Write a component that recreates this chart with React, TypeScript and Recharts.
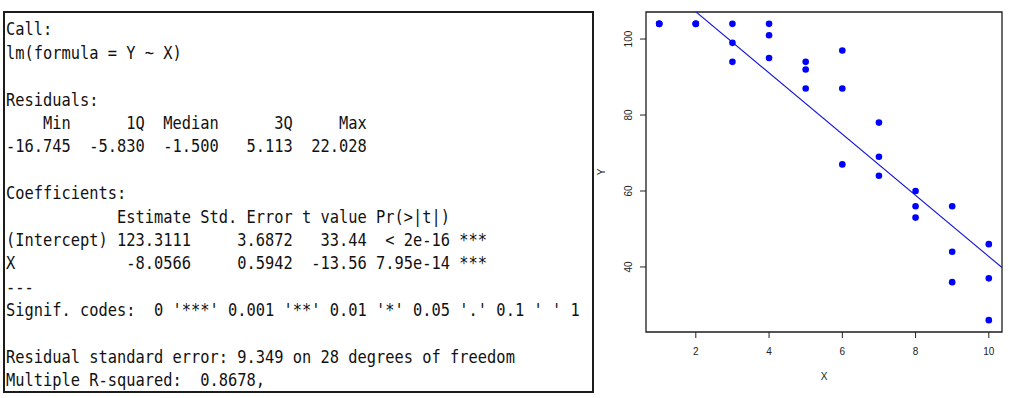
import { ScatterChart, Scatter, XAxis, YAxis, ReferenceLine, ReferenceArea } from 'recharts';

const X_VALUES = [1, 1, 1, 2, 2, 2, 3, 3, 3, 4, 4, 4, 5, 5, 5, 6, 6, 6, 7, 7, 7, 8, 8, 8, 9, 9, 9, 10, 10, 10];
const Y_VALUES = [104, 104, 104, 104, 104, 104, 104, 99, 94, 104, 101, 95, 94, 92, 87, 97, 87, 67, 78, 69, 64, 60, 56, 53, 56, 44, 36, 46, 37, 26];
const X_TICKS = [2, 4, 6, 8, 10];
const Y_TICKS = [40, 60, 80, 100];

// lm coefficients, as printed in the summary
const INTERCEPT = 123.3111;
const SLOPE = -8.0566;

const SUMMARY_LINES = [
  'Call:',
  'lm(formula = Y ~ X)',
  '',
  'Residuals:',
  '    Min      1Q  Median      3Q     Max',
  '-16.745  -5.830  -1.500   5.113  22.028',
  '',
  'Coefficients:',
  '            Estimate Std. Error t value Pr(>|t|)',
  '(Intercept) 123.3111     3.6872   33.44  < 2e-16 ***',
  'X            -8.0566     0.5942  -13.56 7.95e-14 ***',
  '---',
  "Signif. codes:  0 '***' 0.001 '**' 0.01 '*' 0.05 '.' 0.1 ' ' 1",
  '',
  'Residual standard error: 9.349 on 28 degrees of freedom',
  'Multiple R-squared:  0.8678,',
];

const points = X_VALUES.map((x, i) => ({ x, y: Y_VALUES[i] }));

// R pads the data range by 4% on each side
const padRange = (vals: number[]) => {
  const lo = Math.min(...vals);
  const hi = Math.max(...vals);
  const p = (hi - lo) * 0.04;
  return [lo - p, hi + p];
};
const xDomain = padRange(X_VALUES);
const yDomain = padRange(Y_VALUES);
const fitSegment = xDomain.map((x) => ({ x, y: INTERCEPT + SLOPE * x }));

const AXIS_FONT = '"Liberation Sans", Arial, sans-serif';

const YTick = (props: any) => {
  const { x, y, payload } = props;
  return (
    <text x={x} y={y} transform={`rotate(-90 ${x} ${y})`} textAnchor="middle"
      fontSize={10} fill="#222" fontFamily={AXIS_FONT}>
      {payload.value}
    </text>
  );
};

const YTitle = (props: any) => {
  const vb = props.viewBox || { x: 0, y: 12, width: 50, height: 320 };
  const x = vb.x + 9.3;
  const y = vb.y + vb.height / 2;
  return (
    <text x={x} y={y} transform={`rotate(-90 ${x} ${y})`} textAnchor="middle"
      fontSize={10} fill="#222" fontFamily={AXIS_FONT}>Y</text>
  );
};

const XTitle = (props: any) => {
  const vb = props.viewBox || { x: 50, y: 332, width: 356, height: 66 };
  return (
    <text x={vb.x + vb.width / 2} y={vb.y + 48.3} textAnchor="middle"
      fontSize={10} fill="#222" fontFamily={AXIS_FONT}>X</text>
  );
};

const App = () => {
  return (
    <div style={{ position: 'absolute', left: 0, top: 0, width: 1011, height: 398, background: '#fff', overflow: 'hidden' }}>
      <div style={{
        position: 'absolute', left: 3, top: 11, width: 591, height: 382,
        boxSizing: 'border-box', border: '2px solid #1c1c1c', overflow: 'hidden',
      }}>
        <div style={{
          position: 'absolute', left: 1, top: 5.3, transform: 'scaleX(0.904)', transformOrigin: '0 0',
          fontFamily: '"DejaVu Sans Mono", monospace', fontSize: 17, lineHeight: '23.4px',
          color: '#111', whiteSpace: 'pre',
        }}>
          {SUMMARY_LINES.map((line, i) => (
            <div key={i}>{line || '\u00a0'}</div>
          ))}
        </div>
      </div>

      <div style={{ position: 'absolute', left: 596, top: 0 }}>
        <ScatterChart width={415} height={398} margin={{ top: 12, right: 9, bottom: 0, left: 0 }}>
          <XAxis
            type="number" dataKey="x" domain={xDomain} ticks={X_TICKS} allowDataOverflow
            height={66} axisLine={false} tickSize={6} tickMargin={10}
            tickLine={{ stroke: '#222' }}
            tick={{ fontSize: 10, fill: '#222', fontFamily: AXIS_FONT }}
            label={{ content: XTitle }}
          />
          <YAxis
            type="number" dataKey="y" domain={yDomain} ticks={Y_TICKS} allowDataOverflow
            width={50} axisLine={false} tickSize={6} tickMargin={7.6}
            tickLine={{ stroke: '#222' }}
            tick={YTick}
            label={{ content: YTitle }}
          />
          <ReferenceArea
            x1={xDomain[0]} x2={xDomain[1]} y1={yDomain[0]} y2={yDomain[1]}
            fill="none" fillOpacity={0} stroke="#1c1c1c" strokeWidth={1.3} ifOverflow="visible"
          />
          <ReferenceLine segment={fitSegment} stroke="#1414d8" strokeWidth={1.1} ifOverflow="hidden" />
          <Scatter
            data={points} fill="#0000ff" isAnimationActive={false}
            shape={(p: any) => <circle cx={p.cx} cy={p.cy} r={3.3} fill="#0000ff" />}
          />
        </ScatterChart>
      </div>
    </div>
  );
};

export default App;
